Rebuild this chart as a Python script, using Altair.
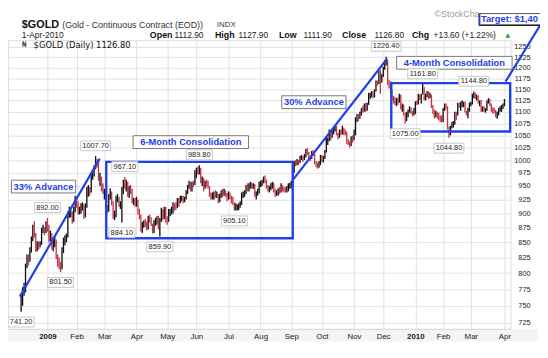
import altair as alt
import pandas as pd
import numpy as np

# ---------------- data ----------------
holidays = ["2008-12-25", "2009-01-01", "2009-01-19", "2009-02-16", "2009-04-10",
            "2009-05-25", "2009-07-03", "2009-09-07", "2009-11-26", "2009-12-25",
            "2010-01-01", "2010-01-18", "2010-02-15"]
dates = [d for d in pd.bdate_range("2008-12-05", "2010-04-01")
         if d.strftime("%Y-%m-%d") not in holidays]

high = [
    # Dec 2008
    768, 778, 785, 815, 830, 830, 842, 860, 880, 886, 866, 852, 851, 852, 875, 880, 876, 886,
    # Jan 2009
    892, 880, 870, 866, 858, 862, 855, 830, 825, 818, 842, 858, 862, 865, 904, 912, 906, 904, 912, 932,
    # Feb
    930, 922, 912, 918, 920, 916, 918, 948, 952, 948, 972, 980, 990, 1007.7, 1002, 996, 975, 968, 955,
    # Mar
    945, 942, 915, 935, 946, 940, 922, 905, 932, 935, 930, 922, 948, 962, 967.1, 962, 958, 950, 952, 945, 928, 928,
    # Apr
    930, 925, 908, 898, 885, 888, 890, 886, 896, 898, 893, 882, 888, 892, 895, 896, 892, 910, 908, 912, 912,
    # May
    895, 908, 908, 912, 920, 918, 920, 928, 928, 932, 932, 932, 930, 942, 952, 960, 958, 958, 960, 980,
    # Jun
    985, 987, 989.8, 985, 968, 965, 960, 962, 960, 950, 938, 938, 940, 942, 940, 935, 936, 942, 945, 945, 942, 937,
    # Jul
    940, 938, 932, 930, 920, 918, 916, 918, 922, 938, 940, 942, 952, 955, 955, 958, 956, 955, 954, 940, 945, 958,
    # Aug
    960, 962, 968, 970, 962, 952, 950, 955, 958, 956, 945, 942, 946, 948, 955, 952, 948, 948, 950, 955, 956,
    # Sep
    960, 980, 998, 1000, 1002, 1000, 1008, 1010, 1008, 1012, 1022, 1024, 1016, 1010, 1018, 1020, 1012, 998, 995, 998, 1010,
    # Oct
    1010, 1008, 1020, 1045, 1045, 1062, 1058, 1060, 1068, 1072, 1070, 1055, 1062, 1062, 1070, 1066, 1062, 1058, 1042, 1038, 1048, 1050,
    # Nov
    1062, 1088, 1095, 1095, 1100, 1108, 1112, 1118, 1120, 1120, 1142, 1142, 1146, 1145, 1150, 1170, 1170, 1192, 1195, 1185,
    # Dec
    1202, 1218, 1226.4, 1220, 1172, 1168, 1148, 1135, 1132, 1130, 1132, 1140, 1138, 1118, 1116, 1098, 1100, 1105, 1112, 1110, 1102, 1108,
    # Jan 2010
    1123, 1125, 1140, 1138, 1140, 1161.8, 1155, 1140, 1146, 1145, 1142, 1138, 1115, 1105, 1102, 1100, 1098, 1092, 1092,
    # Feb
    1108, 1118, 1118, 1112, 1068, 1070, 1078, 1080, 1100, 1100, 1120, 1120, 1122, 1125, 1122, 1122, 1102, 1108, 1120,
    # Mar
    1122, 1140, 1144.8, 1142, 1138, 1136, 1125, 1126, 1112, 1112, 1108, 1125, 1130, 1128, 1118, 1110, 1108, 1104, 1100, 1108, 1112, 1115, 1118,
    # Apr 1
    1127.9,
]
low = [
    741.2, 750, 765, 770, 808, 812, 818, 833, 852, 858, 834, 835, 838, 842, 846, 866, 862, 866,
    868, 850, 852, 838, 835, 842, 822, 810, 806, 801.5, 806, 832, 845, 850, 858, 892, 893, 882, 885, 902,
    910, 898, 898, 900, 905, 890, 893, 910, 930, 932, 938, 962, 968, 982, 985, 960, 950, 940, 935,
    925, 908, 900, 903, 925, 914, 890, 888, 893, 920, 912, 908, 884.1, 935, 945, 940, 930, 928, 935, 918, 915, 912,
    912, 898, 890, 868, 866, 875, 876, 870, 872, 884, 878, 865, 866, 878, 880, 872, 859.9, 885, 888, 890, 884,
    880, 885, 895, 898, 900, 905, 906, 910, 912, 918, 922, 918, 920, 925, 935, 945, 940, 940, 948, 952,
    965, 972, 972, 955, 950, 940, 945, 948, 945, 930, 925, 925, 925, 928, 928, 918, 920, 928, 930, 932, 930, 922,
    925, 925, 918, 915, 905.1, 905, 905, 906, 910, 915, 928, 930, 935, 940, 940, 945, 945, 945, 930, 925, 932, 936,
    948, 950, 955, 955, 945, 940, 938, 942, 945, 938, 930, 932, 932, 935, 938, 940, 938, 938, 938, 940, 945,
    946, 952, 975, 988, 990, 990, 994, 1000, 996, 1000, 1005, 1010, 1002, 998, 1002, 1008, 992, 986, 983, 985, 990,
    996, 995, 1002, 1015, 1030, 1038, 1040, 1045, 1052, 1058, 1050, 1042, 1045, 1050, 1052, 1050, 1050, 1032, 1030, 1025, 1028, 1035,
    1040, 1050, 1078, 1080, 1085, 1092, 1098, 1100, 1100, 1102, 1115, 1128, 1132, 1130, 1132, 1145, 1158, 1162, 1140, 1165,
    1178, 1195, 1205, 1160, 1152, 1140, 1125, 1118, 1115, 1112, 1115, 1120, 1105, 1100, 1092, 1075, 1080, 1088, 1098, 1095, 1090, 1092,
    1095, 1115, 1116, 1126, 1118, 1138, 1125, 1125, 1132, 1128, 1130, 1108, 1095, 1085, 1088, 1085, 1082, 1078, 1077,
    1078, 1102, 1105, 1062, 1044.8, 1050, 1064, 1066, 1072, 1082, 1092, 1108, 1102, 1110, 1110, 1098, 1092, 1086, 1100,
    1112, 1116, 1130, 1128, 1125, 1118, 1112, 1100, 1100, 1100, 1098, 1102, 1118, 1112, 1100, 1096, 1096, 1088, 1085, 1092, 1100, 1100, 1106,
    1111.9,
]
close = [
    752, 771, 774, 812, 823, 822, 837, 857, 868, 862, 838, 847, 845, 848, 872, 873, 869, 884,
    879, 857, 865, 842, 853, 856, 825, 820, 812, 808, 836, 852, 852, 859, 895, 899, 899, 890, 908, 928,
    918, 904, 907, 912, 914, 895, 913, 945, 946, 940, 970, 975, 987, 1001, 994, 966, 966, 950, 942,
    942, 911, 905, 929, 941, 918, 894, 897, 928, 928, 916, 916, 944, 957, 952, 955, 936, 946, 942, 922, 922, 917,
    921, 902, 896, 872, 880, 885, 882, 875, 893, 890, 880, 870, 884, 886, 890, 880, 888, 905, 893, 908, 890,
    886, 903, 903, 906, 917, 915, 912, 925, 920, 928, 930, 922, 928, 940, 948, 956, 945, 954, 952, 978,
    980, 978, 981, 960, 962, 950, 955, 952, 948, 935, 930, 935, 936, 932, 937, 922, 932, 940, 937, 940, 934, 925,
    938, 930, 928, 918, 912, 912, 912, 915, 918, 935, 936, 938, 950, 946, 952, 956, 952, 954, 935, 937, 940, 954,
    955, 960, 964, 960, 950, 945, 948, 950, 955, 942, 935, 940, 942, 940, 952, 945, 944, 942, 946, 952, 953,
    955, 978, 996, 995, 998, 996, 1006, 1006, 1001, 1008, 1020, 1014, 1006, 1003, 1015, 1012, 995, 991, 988, 994, 1006,
    1001, 1004, 1017, 1038, 1040, 1055, 1050, 1057, 1064, 1065, 1052, 1048, 1058, 1055, 1062, 1058, 1055, 1038, 1035, 1030, 1045, 1042,
    1055, 1085, 1090, 1088, 1095, 1104, 1101, 1115, 1105, 1117, 1138, 1140, 1142, 1138, 1146, 1166, 1165, 1188, 1175, 1180,
    1200, 1210, 1218, 1166, 1163, 1145, 1128, 1125, 1118, 1126, 1122, 1132, 1108, 1110, 1095, 1088, 1090, 1102, 1105, 1098, 1096, 1097,
    1120, 1118, 1137, 1133, 1138, 1152, 1128, 1137, 1143, 1130, 1139, 1112, 1102, 1095, 1098, 1095, 1086, 1084, 1080,
    1105, 1115, 1112, 1065, 1052, 1066, 1072, 1074, 1095, 1092, 1117, 1112, 1118, 1118, 1120, 1102, 1097, 1102, 1118,
    1118, 1136, 1142, 1133, 1134, 1122, 1122, 1104, 1106, 1102, 1104, 1122, 1126, 1116, 1106, 1104, 1102, 1090, 1096, 1106, 1107, 1113, 1113,
    1126.8,
]
assert len(high) == len(low) == len(close) == len(dates)

peak_values = [892.0, 1007.7, 967.1, 989.8, 1226.4, 1161.8, 1144.8]
trough_values = [741.2, 801.5, 884.1, 859.9, 905.1, 1075.0, 1044.8]

# annotation geometry (in bar-index / price units)
trend_i = [-0.9, 53.8, 186.0, 250.1, 331.8, 355.4]
trend_p = [763.6, 1002.8, 961.0, 1219.0, 1167.7, 1304.6]
trend_g = ["a", "a", "b", "b", "c", "c"]

box_i1 = [58.3, 253.5]
box_i2 = [186.0, 334.9]
box_p1 = [857.0, 1058.0]
box_p2 = [996.5, 1163.9]

callout_text = ["33% Advance", "6-Month Consolidation", "30% Advance", "4-Month Consolidation"]
callout_i = [15.3, 116.2, 200.5, 296.7]
callout_p = [949.0, 1036.0, 1121.0, 1211.7]

y_ticks = list(range(725, 1251, 25))

# ---------------- build tables ----------------
n = len(dates)
df = pd.DataFrame({"i": range(n), "high": high, "low": low, "close": close})
df["dir"] = np.where(df["close"].diff().fillna(1) >= 0, "up", "down")

month_idx, month_lab = [], []
prev = None
for k, d in enumerate(dates):
    key = (d.year, d.month)
    if key != prev and d >= pd.Timestamp("2009-01-01"):
        month_idx.append(k)
        month_lab.append(str(d.year) if d.month == 1 else d.strftime("%b"))
    prev = key
year_idx = [m for m, l in zip(month_idx, month_lab) if l.isdigit()]

label_expr = "[" + ",".join("'%s'" % l for l in month_lab) + "][indexof([" + \
    ",".join(str(m) for m in month_idx) + "], datum.value)]"

BLUE = "#1f40e6"
FONT = "Liberation Sans"

xs = alt.Scale(domain=[-9, 335.1], nice=False, zero=False)
ys = alt.Scale(type="log", domain=[716.6, 1267.1], nice=False, zero=False)

x_axis = alt.Axis(values=month_idx, labelExpr=label_expr, title=None, ticks=False,
                  domain=False, grid=True, gridColor="#e2e2e2", labelFont=FONT,
                  labelFontSize=8, labelColor="#222", labelPadding=4,
                  labelFlush=False, labelOverlap=False,
                  labelFontWeight={"condition": {"test": "indexof(%s, datum.value) >= 0" % year_idx,
                                                 "value": "bold"}, "value": "normal"})
y_axis = alt.Axis(values=y_ticks, orient="right", title=None, ticks=False, domain=False,
                  format="d", grid=True, gridColor="#e2e2e2", labelAlign="right",
                  labelPadding=20, labelFont=FONT, labelFontSize=7.5, labelColor="#222",
                  labelFlush=False, labelOverlap=False)


def X(f):
    return alt.X(f, scale=xs, axis=x_axis)


def Y(f):
    return alt.Y(f, scale=ys, axis=y_axis)


bars = alt.Chart(df).mark_rule(strokeWidth=1.35).encode(
    x=X("i:Q"), y=Y("low:Q"), y2="high:Q",
    color=alt.Color("dir:N", scale=alt.Scale(domain=["up", "down"], range=["#111111", "#cc3344"]),
                    legend=None),
)

# trend lines
tdf = pd.DataFrame({"i": trend_i, "p": trend_p, "g": trend_g})
trends = alt.Chart(tdf).mark_line(color=BLUE, strokeWidth=2.2).encode(
    x=X("i:Q"), y=Y("p:Q"), detail="g:N")

# consolidation boxes
bdf = pd.DataFrame({"i1": box_i1, "i2": box_i2, "p1": box_p1, "p2": box_p2})
boxes = alt.Chart(bdf).mark_rect(fillOpacity=0, stroke=BLUE, strokeWidth=2.4).encode(
    x=X("i1:Q"), x2="i2:Q", y=Y("p1:Q"), y2="p2:Q")

# callouts
cdf = pd.DataFrame({"t": callout_text, "i": callout_i, "p": callout_p})
cw = cdf["t"].str.len() * 5.2 + 8
cdf["size"] = cw ** 2
cdf["shape"] = ["M-1,%.4fL1,%.4fL1,%.4fL-1,%.4fZ" % (-13 / w, -13 / w, 13 / w, 13 / w) for w in cw]
callout_bg = alt.Chart(cdf).mark_point(filled=True, fill="white", fillOpacity=1, opacity=1,
                                       stroke="#777777", strokeWidth=1).encode(
    x=X("i:Q"), y=Y("p:Q"),
    shape=alt.Shape("shape:N", scale=None), size=alt.Size("size:Q", scale=None))
callout_txt = alt.Chart(cdf).mark_text(font=FONT, fontSize=9.5, fontWeight="bold", color=BLUE,
                                       baseline="middle").encode(
    x=X("i:Q"), y=Y("p:Q"), text="t:N")


# price labels
def price_labels(values, col, above):
    rows = []
    for v in values:
        k = list(df[col]).index(v)
        rows.append({"i": k, "p": v, "t": "%.2f" % v})
    ldf = pd.DataFrame(rows)
    w = ldf["t"].str.len() * 3.9 + 3
    ldf["size"] = w ** 2
    ldf["shape"] = ["M-1,%.4fL1,%.4fL1,%.4fL-1,%.4fZ" % (-10 / x, -10 / x, 10 / x, 10 / x) for x in w]
    off = -10.5 if above else 10.5
    bg = alt.Chart(ldf).mark_point(filled=True, fill="white", fillOpacity=1, opacity=1,
                                   stroke="#c8c8c8", strokeWidth=1, yOffset=off).encode(
        x=X("i:Q"), y=Y("p:Q"),
        shape=alt.Shape("shape:N", scale=None), size=alt.Size("size:Q", scale=None))
    tx = alt.Chart(ldf).mark_text(font=FONT, fontSize=7.5, color="#222", baseline="middle",
                                  dy=off).encode(
        x=X("i:Q"), y=Y("p:Q"), text="t:N")
    return [bg, tx]


labels = price_labels(peak_values, "high", True) + price_labels(trough_values, "low", False)


# header / decorations in pixel space
def txt(s, x, y, size, weight="normal", color="#222", font=FONT):
    return alt.Chart(pd.DataFrame({"t": [s]})).mark_text(
        align="left", baseline="middle", fontSize=size, fontWeight=weight, color=color,
        font=font).encode(x=alt.value(x), y=alt.value(y), text="t:N")


def prect(x1, x2, y1, y2, **kw):
    return alt.Chart(pd.DataFrame({"a": [0]})).mark_rect(**kw).encode(
        x=alt.value(x1), x2=alt.value(x2), y=alt.value(y1), y2=alt.value(y2))


header = [
    txt("$GOLD", 14, -15, 11, "bold", "#111"),
    txt("(Gold - Continuous Contract (EOD))", 55, -15, 9, "normal", "#333"),
    txt("INDX", 212, -15, 8, "normal", "#333"),
    txt("1-Apr-2010", 14, -5, 8.5, "normal", "#222"),
    txt("Open", 144, -5, 9, "bold", "#111"), txt("1112.90", 169, -5, 8.5),
    txt("High", 210, -5, 9, "bold", "#111"), txt("1127.90", 234, -5, 8.5),
    txt("Low", 275, -5, 9, "bold", "#111"), txt("1111.90", 300, -5, 8.5),
    txt("Close", 339, -5, 9, "bold", "#111"), txt("1126.80", 372, -5, 8.5),
    txt("Chg", 410, -5, 9, "bold", "#111"), txt("+13.60 (+1.22%)", 432, -5, 8.5),
    txt("▲", 505, -5, 6, "normal", "#2a9d2a", "DejaVu Sans"),
    txt("₦", 14, 5, 8, "normal", "#333", "DejaVu Sans"),
    txt("$GOLD (Daily) 1126.80", 26, 5, 8.5, "normal", "#111", "DejaVu Sans"),
    txt("©StockCha", 433, -26, 9, "normal", "#9a9a9a"),
    prect(478, 560, -27, -15, fill="white", stroke="#555", strokeWidth=1),
    prect(478, 560, -16, -14.5, fill="#111"),
    prect(478, 479.5, -27, -15, fill=BLUE),
    txt("Target: $1,40", 480, -21, 9.5, "bold", BLUE),
    prect(0, 538, 293, 306, fill="#000000", opacity=0.045),
]

chart = alt.layer(
    bars, trends, boxes, callout_bg, callout_txt, *labels, *header
).properties(
    width=510, height=293,
    padding={"left": 0, "top": 30, "right": 30, "bottom": 27},
    autosize=alt.AutoSizeParams(type="none"),
).configure_view(stroke="#bbbbbb", strokeWidth=1, fill="white").configure(background="white")

chart.save("out.html", embed_options={"renderer": "svg", "actions": False})
